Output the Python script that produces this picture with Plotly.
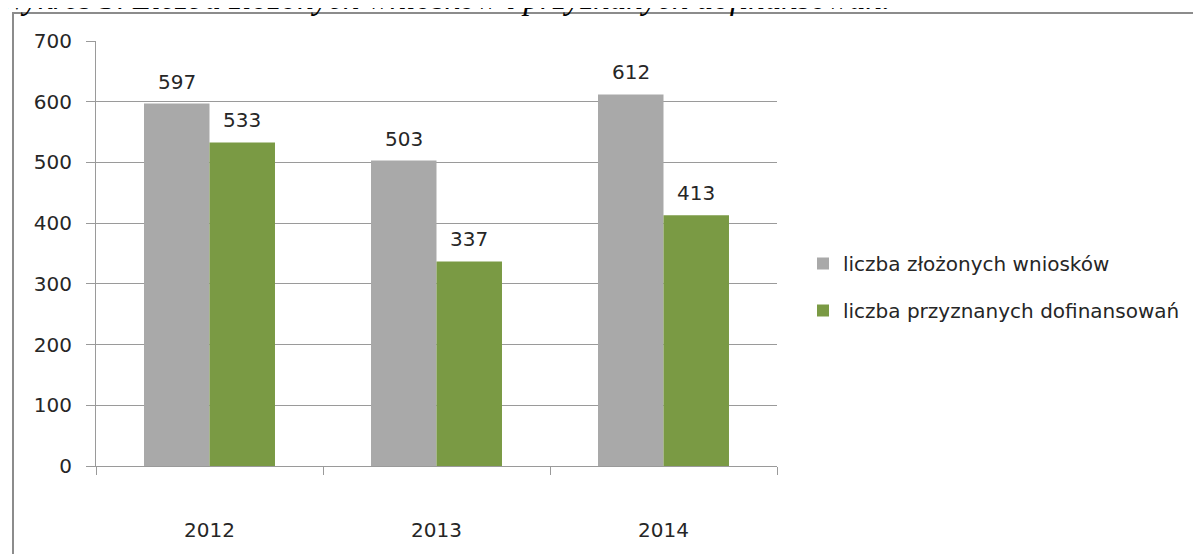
import plotly.graph_objects as go

years = ["2012", "2013", "2014"]
submitted = [597, 503, 612]
granted = [533, 337, 413]
series_names = ["liczba złożonych wniosków", "liczba przyznanych dofinansowań"]
y_ticks = [0, 100, 200, 300, 400, 500, 600, 700]
title_text = "Wykres 3. Liczba złożonych wniosków i przyznanych dofinansowań."

GREY = "#A9A9A9"
GREEN = "#7A9A44"
AX = "#9A9A9A"
TXT = "#262626"
FONT = "DejaVu Sans"

OFF = 8  # page body margin
W, H = 1201, 554
# plot area in screen pixels: x 96..777, y 41..466
X0, X1, Y0, Y1 = 96 - OFF, 777 - OFF, 41 - OFF, 466 - OFF
L, R, T, B = X0, W - X1, Y0, H - Y1
PW, PH = X1 - X0, Y1 - Y0


def px(sx):
    return (sx - OFF - X0) / PW


def py(sy):
    return (Y1 - (sy - OFF)) / PH


fig = go.Figure()
fig.add_trace(go.Bar(x=years, y=submitted, name=series_names[0], marker_color=GREY,
                     marker_line_width=0, legendgroup="a"))
fig.add_trace(go.Bar(x=years, y=granted, name=series_names[1], marker_color=GREEN,
                     marker_line_width=0, legendgroup="b"))

bar_px = PW / 3 * (1 - 0.423) / 2
for vals, sh in ((submitted, -bar_px / 2), (granted, bar_px / 2)):
    for i, v in enumerate(vals):
        fig.add_annotation(x=i, y=v, text=str(v), showarrow=False, xshift=sh,
                           yanchor="bottom", yshift=8,
                           font=dict(family=FONT, size=20, color=TXT))

fig.add_annotation(xref="paper", yref="paper", x=px(-3), y=py(18),
                   xanchor="left", yanchor="bottom", showarrow=False,
                   text="<i>" + title_text + "</i>",
                   font=dict(family="Liberation Serif", size=33, color="#000000"))

# outer frame
fig.add_shape(type="rect", xref="paper", yref="paper",
              x0=px(13), x1=px(1240), y0=py(600), y1=py(13),
              line=dict(color="#8C8C8C", width=2), fillcolor="rgba(0,0,0,0)", layer="below")

fig.update_layout(
    width=W, height=H,
    margin=dict(l=L, r=R, t=T, b=B, autoexpand=False),
    paper_bgcolor="white", plot_bgcolor="white",
    barmode="group", bargap=0.423, bargroupgap=0,
    font=dict(family=FONT, size=20, color=TXT),
    showlegend=True,
    legend=dict(x=px(803), y=py(287), xanchor="left", yanchor="middle",
                font=dict(family=FONT, size=20, color=TXT), tracegroupgap=18,
                bgcolor="rgba(0,0,0,0)", itemwidth=30),
)
fig.update_yaxes(range=[0, 700], tickvals=y_ticks, showgrid=True, gridcolor=AX, gridwidth=1,
                 showline=True, linecolor=AX, linewidth=1, ticks="outside", ticklen=9,
                 tickcolor=AX, zeroline=False, ticklabelstandoff=10,
                 tickfont=dict(family=FONT, size=20, color=TXT))
fig.update_xaxes(type="category", range=[-0.5, 2.5], showline=True, linecolor=AX, linewidth=1,
                 ticks="outside", tickson="boundaries", ticklen=8, tickcolor=AX, showgrid=False,
                 tickangle=0, ticklabelstandoff=46, tickfont=dict(family=FONT, size=20, color=TXT))

fig.write_html("out.html")
